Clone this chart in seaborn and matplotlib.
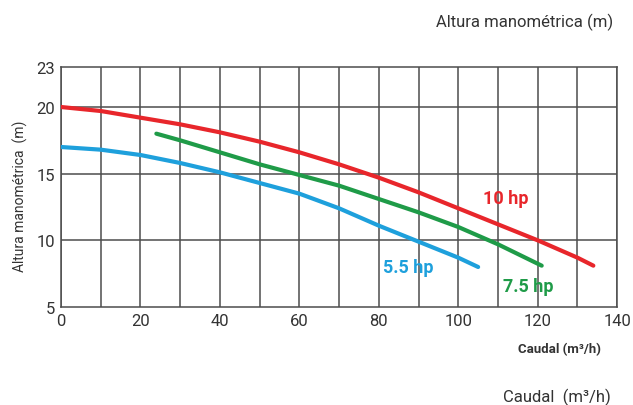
import pandas as pd
import matplotlib.pyplot as plt
import seaborn as sns

# curvas das bombas (caudal m3/h -> altura m)
caudal_10hp = [0, 10, 20, 30, 40, 50, 60, 70, 80, 90, 100, 110, 120, 130, 134]
altura_10hp = [20.0, 19.7, 19.2, 18.7, 18.1, 17.4, 16.6, 15.7, 14.7, 13.6, 12.4, 11.2, 10.0, 8.7, 8.1]

caudal_75hp = [24, 30, 40, 50, 60, 70, 80, 90, 100, 110, 121]
altura_75hp = [18.0, 17.5, 16.6, 15.7, 14.9, 14.1, 13.1, 12.1, 11.0, 9.7, 8.1]

caudal_55hp = [0, 10, 20, 30, 40, 50, 60, 70, 80, 90, 100, 105]
altura_55hp = [17.0, 16.8, 16.4, 15.8, 15.1, 14.3, 13.5, 12.4, 11.1, 9.9, 8.7, 8.0]

series = ["10 hp", "7.5 hp", "5.5 hp"]
cores = {"10 hp": "#e8262b", "7.5 hp": "#1f9b48", "5.5 hp": "#1ea0dc"}

x_ticks = [0, 20, 40, 60, 80, 100, 120, 140]
y_ticks = [5, 10, 15, 20, 23]

df = pd.concat([
    pd.DataFrame({"caudal": caudal_10hp, "altura": altura_10hp, "motor": "10 hp"}),
    pd.DataFrame({"caudal": caudal_75hp, "altura": altura_75hp, "motor": "7.5 hp"}),
    pd.DataFrame({"caudal": caudal_55hp, "altura": altura_55hp, "motor": "5.5 hp"}),
])

sns.set_style("white")
plt.rcParams['font.family'] = ['Roboto', 'DejaVu Sans']

fig = plt.figure(figsize=(6.33, 4.06), dpi=100)
ax = fig.add_axes([0.0964, 0.2414, 0.8786, 0.5911])

grid_col = "#4d4d4d"
for xv in range(0, 141, 10):
    ax.axvline(xv, color=grid_col, lw=1.1, zorder=1)
for yv in [10, 15, 20]:
    ax.axhline(yv, color=grid_col, lw=1.1, zorder=1)

sns.lineplot(data=df, x="caudal", y="altura", hue="motor", palette=cores,
             hue_order=series, linewidth=3, legend=False, sort=False, ax=ax, zorder=3)

ax.set_xlim(0, 140)
ax.set_ylim(5, 23)
ax.set_xticks(x_ticks)
ax.set_yticks(y_ticks)
ax.tick_params(length=0, labelsize=12, colors="#333333", pad=4)
for s in ax.spines.values():
    s.set_color(grid_col)
    s.set_linewidth(1.1)
ax.set_xlabel("")
ax.set_ylabel("")

# etiquetas das curvas
ax.text(112, 13.2, "10 hp", color=cores["10 hp"], fontsize=13, fontweight="bold", ha="center", va="center")
ax.text(117.5, 6.6, "7.5 hp", color=cores["7.5 hp"], fontsize=13, fontweight="bold", ha="center", va="center")
ax.text(87.5, 8.0, "5.5 hp", color=cores["5.5 hp"], fontsize=13, fontweight="bold", ha="center", va="center")

fig.text(20 / 633, 1 - 196 / 406, "Altura manométrica  (m)", rotation=90, fontsize=10,
         color="#333333", ha="center", va="center")
fig.text(560 / 633, 1 - 350 / 406, "Caudal (m\u00b3/h)", fontsize=9.5, fontweight="bold",
         color="#333333", ha="center", va="center")
fig.text(525 / 633, 1 - 22 / 406, "Altura manométrica (m)", fontsize=12,
         color="#333333", ha="center", va="center")
fig.text(557 / 633, 1 - 397 / 406, "Caudal  (m\u00b3/h)", fontsize=12,
         color="#333333", ha="center", va="center")

fig.savefig("out.png", dpi=100)
